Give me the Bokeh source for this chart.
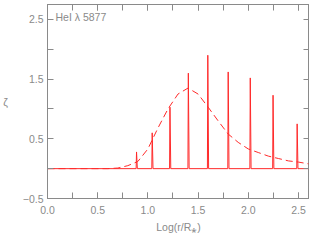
from bokeh.plotting import figure
from bokeh.models import (SingleIntervalTicker, FixedTicker, LinearAxis, Label, Range1d,
                          NumeralTickFormatter, CustomJSTickFormatter)
from bokeh.embed import file_html
from bokeh.resources import INLINE

# Spike (line emission) positions and peak heights
spike_pos = [0.887, 1.043, 1.22, 1.403, 1.597, 1.80, 2.02, 2.247, 2.487]
spike_height = [0.28, 0.60, 1.03, 1.60, 1.90, 1.62, 1.52, 1.23, 0.75]

# Smooth (dashed) profile
curve_x = [0.0, 0.6, 0.7, 0.8, 0.9, 1.0, 1.1, 1.2, 1.3, 1.4, 1.5, 1.6, 1.7,
           1.8, 1.9, 2.0, 2.1, 2.2, 2.3, 2.4, 2.5, 2.6]
curve_y = [0.0, 0.0, 0.01, 0.05, 0.12, 0.33, 0.68, 1.0, 1.25, 1.35, 1.25, 1.03,
           0.8, 0.58, 0.44, 0.33, 0.27, 0.21, 0.17, 0.13, 0.11, 0.08]

x_start, x_end = 0.0, 2.61
y_start, y_end = -0.5, 2.75

GRAY = "#8a8a8a"
RED = "#ff2a2a"

p = figure(width=309, height=245, output_backend="svg", toolbar_location=None,
           x_range=Range1d(x_start, x_end), y_range=Range1d(y_start, y_end),
           min_border_left=41, min_border_right=0, min_border_top=4,
           min_border_bottom=47)
p.grid.visible = False
p.outline_line_color = GRAY
p.background_fill_color = "white"
p.border_fill_color = "white"

# spikes as narrow triangles on top of a zero baseline
w = 0.012
sx = [x_start]
sy = [0.0]
for pos, h in zip(spike_pos, spike_height):
    sx += [pos - w / 3, pos, pos + 2 * w / 3]
    sy += [0.0, h, 0.0]
sx.append(x_end)
sy.append(0.0)

p.line(curve_x, curve_y, line_color=RED, line_width=1.0, line_dash="7 4")
p.line(sx, sy, line_color=RED, line_width=1.0)

def style_axis(ax):
    ax.axis_line_color = GRAY
    ax.major_tick_line_color = GRAY
    ax.minor_tick_line_color = GRAY
    ax.major_tick_in = 6
    ax.major_tick_out = 0
    ax.minor_tick_in = 6
    ax.minor_tick_out = 0
    ax.major_label_text_color = GRAY
    ax.major_label_text_font = "Liberation Sans"
    ax.major_label_text_font_size = "10.5px"
    ax.axis_label_text_color = GRAY
    ax.axis_label_text_font = "Liberation Sans"
    ax.axis_label_text_font_size = "10.5px"
    ax.axis_label_text_font_style = "normal"

xa = p.xaxis[0]
xa.ticker = SingleIntervalTicker(interval=0.5, num_minor_ticks=2)
xa.formatter = NumeralTickFormatter(format="0.0")
xa.axis_label = "Log(r/R\u204e)"
xa.axis_label_standoff = 4
xa.major_label_standoff = 7
style_axis(xa)

ya = p.yaxis[0]
ya.ticker = FixedTicker(ticks=[-0.5, 0.5, 1.5, 2.5], minor_ticks=[0.0, 1.0, 2.0])
ya.axis_label = "\u03b6"
ya.axis_label_orientation = "horizontal"
ya.axis_label_standoff = 12
ya.major_label_standoff = 4
style_axis(ya)

empty = CustomJSTickFormatter(code="return ''")

top = LinearAxis(ticker=SingleIntervalTicker(interval=0.5, num_minor_ticks=2),
                 formatter=empty)
style_axis(top)
top.major_label_standoff = 0
top.axis_label_standoff = 0
p.add_layout(top, "above")

right = LinearAxis(ticker=FixedTicker(ticks=[-0.5, 0.5, 1.5, 2.5], minor_ticks=[0.0, 1.0, 2.0]),
                   formatter=empty)
style_axis(right)
right.major_label_standoff = 0
right.axis_label_standoff = 0
p.add_layout(right, "right")

p.add_layout(Label(x=x_start, y=y_end, x_offset=8, y_offset=-12,
                   text="HeI \u03bb 5877", text_color=GRAY,
                   text_font="Liberation Sans", text_font_size="10.5px",
                   text_baseline="middle"))

open("out.html", "w").write(file_html(p, INLINE))
